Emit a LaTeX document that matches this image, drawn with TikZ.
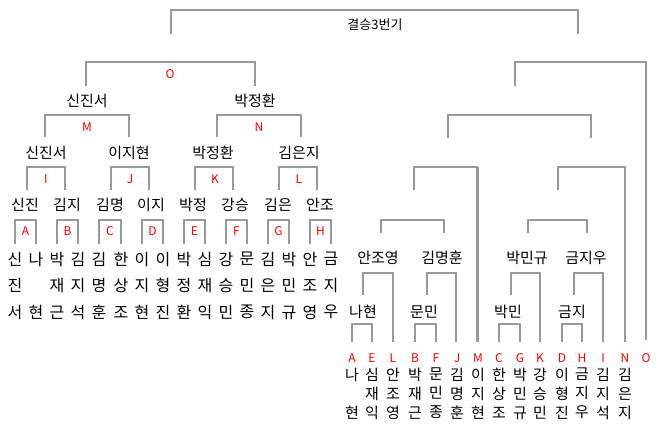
\documentclass[tikz,border=0pt]{standalone}
\usepackage{fontspec}
\setmainfont{Noto Sans CJK KR}
\begin{document}
\begin{tikzpicture}[x=1pt,y=-1pt,
  br/.style={draw=black!40,line width=1.5pt},
  nm/.style={font=\fontsize{15}{15}\selectfont,inner sep=0pt},
  lt/.style={font=\fontsize{12}{12}\selectfont,text=red,inner sep=0pt},
  leafL/.style={font=\fontsize{16}{26.5}\selectfont,inner sep=0pt,align=center,anchor=north,text width=16pt},
  leafR/.style={font=\fontsize{15}{19}\selectfont,inner sep=0pt,align=center,anchor=north,text width=16pt}]
\useasboundingbox (0,0) rectangle (660,434);
\newcommand\brk[5]{\draw[br] (#1,#4)--(#1,#3)--(#2,#3)--(#2,#5);}
% top
\brk{171}{578}{10}{34}{34}
\node[nm,font=\fontsize{13}{13}\selectfont] (t) at (375,25) {결승3번기};
% left half
\brk{86}{255}{62}{86}{86}
\node[lt] (o1) at (170,74) {O};
\node[nm] (n1) at (87,101) {신진서};
\node[nm] (n2) at (255,101) {박정환};
\brk{45}{129}{115}{137}{137} \node[lt] (m1) at (87,127) {M};
\brk{217}{301}{115}{137}{137} \node[lt] (nn1) at (259,127) {N};
\node[nm] at (46,153) {신진서};
\node[nm] at (129,153) {이지현};
\node[nm] at (213,153) {박정환};
\node[nm] at (299,153) {김은지};
\brk{27}{65}{167}{190}{190} \node[lt] at (46,179) {I};
\brk{111}{149}{167}{190}{190} \node[lt] at (130,179) {J};
\brk{195}{233}{167}{190}{190} \node[lt] at (215,179) {K};
\brk{279}{317}{167}{190}{190} \node[lt] at (299,179) {L};
\foreach \x/\t in {25/신진,67/김지,110/김명,151/이지,193/박정,235/강승,278/김은,320/안조}
  \node[nm] at (\x,205) {\t};
\foreach \a/\b/\l in {15/36/A,57/78/B,99/121/C,142/163/D,184/205/E,226/247/F,268/289/G,310/331/H}{
  \brk{\a}{\b}{220}{244}{244}
  \node[lt] at ({(\a+\b)/2},231) {\l};}
\foreach \x/\t in {15/신\\진\\서,36/나\\\strut\\현,57/박\\재\\근,78/김\\지\\석,99/김\\명\\훈,121/한\\상\\조,142/이\\지\\현,163/이\\형\\진,184/박\\정\\환,205/심\\재\\익,226/강\\승\\민,247/문\\민\\종,268/김\\은\\지,289/박\\민\\규,310/안\\조\\영,331/금\\지\\우}
  \node[leafL] at (\x,252) {\t};
% right half
\brk{515}{646}{62}{86}{340}
\brk{448}{591}{115}{138}{138}
\brk{414}{477}{167}{190}{342}
\brk{558}{625}{167}{190}{342}
\brk{381}{444}{220}{233}{233}
\brk{528}{587}{220}{233}{233}
\node[nm] at (378,258) {안조영};
\node[nm] at (442,258) {김명훈};
\node[nm] at (527,258) {박민규};
\node[nm] at (586,258) {금지우};
\brk{363}{393}{273}{295}{342}
\brk{427}{456}{273}{295}{342}
\brk{511}{540}{273}{295}{342}
\brk{574}{603}{273}{295}{342}
\node[nm] at (363,312) {나현};
\node[nm] at (424,312) {문민};
\node[nm] at (508,312) {박민};
\node[nm] at (572,312) {금지};
\brk{352}{372}{324}{342}{342}
\brk{415}{436}{324}{342}{342}
\brk{499}{520}{324}{342}{342}
\brk{562}{582}{324}{342}{342}
\foreach \x/\l in {352/A,372/E,393/L,415/B,436/F,457/J,478/M,499/C,520/G,540/K,562/D,582/H,603/I,625/N,646/O}
  \node[lt] at (\x,358) {\l};
\draw[br] (478,167)--(478,342);
\foreach \x/\t in {352/나\\\strut\\현,372/심\\재\\익,393/안\\조\\영,415/박\\재\\근,436/문\\민\\종,457/김\\명\\훈,478/이\\지\\현,499/한\\상\\조,520/박\\민\\규,540/강\\승\\민,562/이\\형\\진,582/금\\지\\우,603/김\\지\\석,625/김\\은\\지}
  \node[leafR] at (\x,368) {\t};
\end{tikzpicture}
\end{document}
